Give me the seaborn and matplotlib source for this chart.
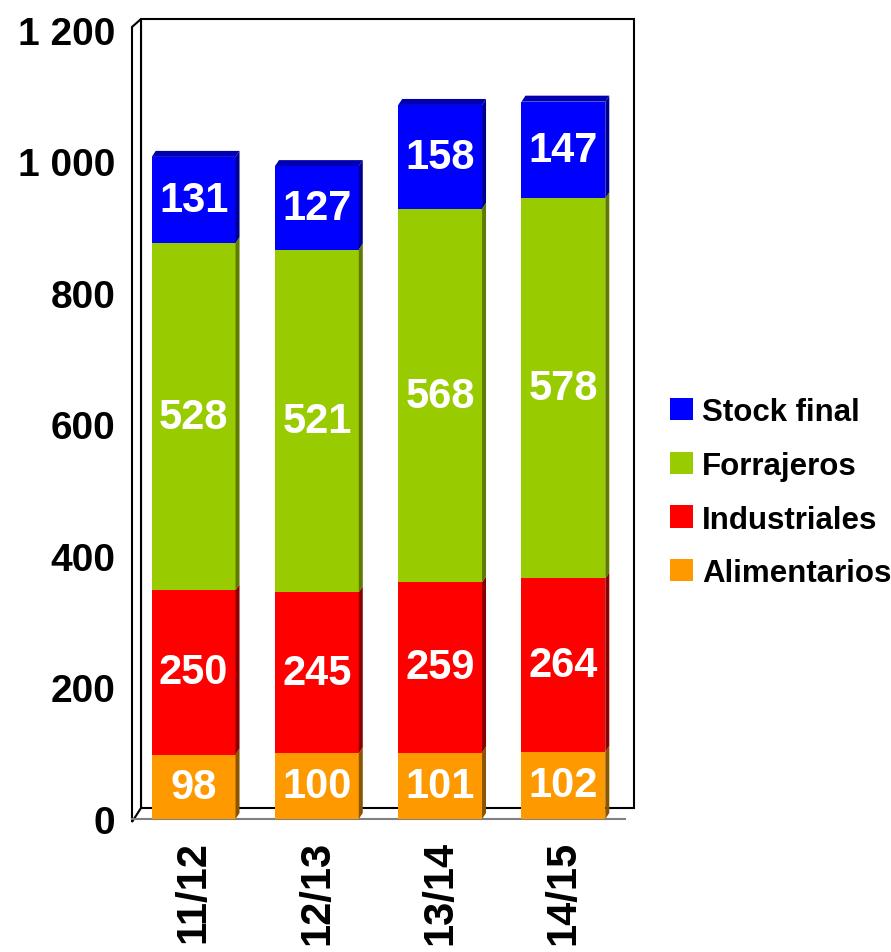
import numpy as np
import pandas as pd
import matplotlib
matplotlib.use("Agg")
import matplotlib.pyplot as plt
import matplotlib.transforms as mtransforms
from matplotlib.patches import Polygon, Patch
import seaborn as sns

# Datos
periodos = ["11/12", "12/13", "13/14", "14/15"]
capas = ["Alimentarios", "Industriales", "Forrajeros", "Stock final"]
alimentarios = [98, 100, 101, 102]
industriales = [250, 245, 259, 264]
forrajeros = [528, 521, 568, 578]
stock_final = [131, 127, 158, 147]

colores = {"Alimentarios": "#FF9900", "Industriales": "#FF0000",
           "Forrajeros": "#99CC00", "Stock final": "#0000FF"}
lados = {"Alimentarios": "#8A5400", "Industriales": "#8A0000",
         "Forrajeros": "#5E7A00", "Stock final": "#000090"}
techo = "#0000B0"

sns.set_style("white")
plt.rcParams['font.family'] = ['Liberation Sans', 'DejaVu Sans']
plt.rcParams['font.weight'] = 'bold'
plt.rcParams['text.color'] = 'black'
plt.rcParams['xtick.color'] = 'black'
plt.rcParams['ytick.color'] = 'black'

datos = pd.DataFrame({"Alimentarios": alimentarios, "Industriales": industriales,
                      "Forrajeros": forrajeros, "Stock final": stock_final},
                     index=periodos)
acum = datos.cumsum(axis=1)

fig = plt.figure(figsize=(8.91, 9.53), dpi=100)
ax = fig.add_axes([132 / 891, 1 - 820 / 953, 493 / 891, 789 / 953])

ancho = 0.68
# barras apiladas: se dibujan de la mas alta a la mas baja
for capa in reversed(capas):
    sns.barplot(x=periodos, y=acum[capa].values, color=colores[capa], saturation=1,
                width=ancho, edgecolor="none", linewidth=0, ax=ax, zorder=3)

ax.set_xlim(-0.5, 3.5)
ax.set_ylim(0, 1200)

# paredes 3D (fondo y lateral)
ident = mtransforms.IdentityTransform()
dxw, dyw = 9, 11
esq = ax.transAxes.transform([(0, 0), (1, 0), (1, 1), (0, 1)])
fondo = esq + np.array([dxw, dyw])
fig.add_artist(Polygon(fondo, closed=True, fill=False, edgecolor="black",
                       linewidth=1.5, transform=ident, zorder=0))
lateral = [esq[0] + [0, -3], fondo[0], fondo[3], esq[3] + [0, 3]]
fig.add_artist(Polygon(lateral, closed=True, facecolor="white", edgecolor="black",
                       linewidth=1.5, transform=ident, zorder=0))

# caras laterales y superiores de las barras
dxb, dyb = 4, 6
for j, per in enumerate(periodos):
    base = 0
    for capa in capas:
        tope = acum.loc[per, capa]
        p0 = ax.transData.transform((j + ancho / 2, base))
        p1 = ax.transData.transform((j + ancho / 2, tope))
        cara = [p0, p0 + [dxb, dyb], p1 + [dxb, dyb], p1]
        ax.add_patch(Polygon(cara, closed=True, facecolor=lados[capa], edgecolor="none",
                             transform=ident, zorder=4, clip_on=False))
        ax.text(j, (base + tope) / 2, str(datos.loc[per, capa]), ha="center", va="center",
                color="white", fontsize=30, fontweight="bold", zorder=6)
        base = tope
    q0 = ax.transData.transform((j - ancho / 2, base))
    q1 = ax.transData.transform((j + ancho / 2, base))
    sup = [q0, q1, q1 + [dxb, dyb], q0 + [dxb, dyb]]
    ax.add_patch(Polygon(sup, closed=True, facecolor=techo, edgecolor="none",
                         transform=ident, zorder=4, clip_on=False))

# ejes
for lado in ["top", "right", "left"]:
    ax.spines[lado].set_visible(False)
ax.spines["bottom"].set_color("#808080")
ax.spines["bottom"].set_linewidth(1.5)
ax.spines["bottom"].set_zorder(1)
ax.set_yticks([0, 200, 400, 600, 800, 1000, 1200])
ax.set_yticklabels([f"{v:,.0f}".replace(",", " ") for v in ax.get_yticks()])
ax.tick_params(axis="y", length=0, pad=12, labelsize=28, labelcolor="black")
ax.set_xticks(range(len(periodos)))
ax.set_xticklabels(periodos, rotation=90)
ax.set_xticks(np.arange(-0.5, len(periodos)), minor=True)
ax.tick_params(axis="x", which="major", length=0, pad=15, labelsize=30, labelcolor="black")
ax.tick_params(axis="x", which="minor", length=7, width=1.2, color="#404040")
for t in ax.get_xticklabels() + ax.get_yticklabels():
    t.set_fontweight("bold")
ax.set_xlabel("")
ax.set_ylabel("")
ax.patch.set_alpha(0)

# leyenda
manejadores = [Patch(facecolor=colores[c], edgecolor="none", label=c) for c in reversed(capas)]
ley = fig.legend(handles=manejadores, loc="center left", bbox_to_anchor=(670 / 891, 0.482),
                 bbox_transform=fig.transFigure, frameon=False,
                 handlelength=0.72, handleheight=0.72, handletextpad=0.3,
                 labelspacing=0.76, borderpad=0, borderaxespad=0,
                 prop={"weight": "bold", "size": 22.5})
for t in ley.get_texts():
    t.set_color("black")

fig.savefig("out.png", dpi=100)
